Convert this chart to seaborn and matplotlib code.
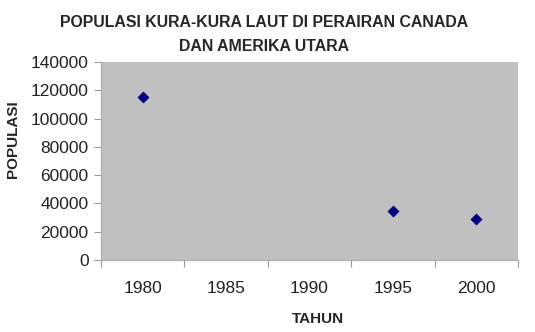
import matplotlib
matplotlib.use("Agg")
import matplotlib.pyplot as plt
import seaborn as sns
import numpy as np
import pandas as pd
from matplotlib.ticker import FixedLocator

years = ["1980", "1985", "1990", "1995", "2000"]
populasi = [115000, np.nan, np.nan, 35000, 29000]
yticks = [0, 20000, 40000, 60000, 80000, 100000, 120000, 140000]

title = "POPULASI KURA-KURA LAUT DI PERAIRAN CANADA\nDAN AMERIKA UTARA"
xlabel = "TAHUN"
ylabel = "POPULASI"

sns.set_style("white")
plt.rcParams["font.family"] = ["Liberation Sans", "DejaVu Sans"]

df = pd.DataFrame({"Tahun": years, "Populasi": populasi})

fig = plt.figure(figsize=(5.35, 3.32), dpi=100)
ax = fig.add_axes([101 / 535, 72 / 332, 417 / 535, 198 / 332])
ax.set_facecolor("#C0C0C0")

sns.pointplot(data=df, x="Tahun", y="Populasi", order=years, markers="D",
              linestyle="none", color="#000080", errorbar=None, ax=ax,
              markersize=4.3)

ax.set_xlim(-0.5, len(years) - 0.5)
ax.set_ylim(0, 140000)
ax.set_yticks(yticks)
ax.set_yticklabels([str(v) for v in yticks])
ax.xaxis.set_minor_locator(FixedLocator(np.arange(-0.5, len(years), 1.0)))
ax.tick_params(axis="x", which="major", length=0, pad=15, labelsize=12.5,
               labelcolor="#222222")
ax.tick_params(axis="x", which="minor", length=5, width=0.8, color="#999999",
               direction="out", bottom=True)
ax.tick_params(axis="y", which="major", length=5, width=0.8, color="#999999",
               direction="out", left=True, pad=4, labelsize=12.5,
               labelcolor="#222222")

for s in ["top", "right"]:
    ax.spines[s].set_visible(False)
for s in ["left", "bottom"]:
    ax.spines[s].set_color("#AAAAAA")
    ax.spines[s].set_linewidth(0.8)

ax.set_xlabel("")
ax.set_ylabel("")

fig.text(264 / 535, 1 - 34.5 / 332, title, ha="center", va="center",
         fontsize=11.4, fontweight="bold", linespacing=1.75)
fig.text(318 / 535, 1 - 319 / 332, xlabel, ha="center", va="center",
         fontsize=11, fontweight="bold")
fig.text(13 / 535, 1 - 139 / 332, ylabel, ha="center", va="center",
         fontsize=11, fontweight="bold", rotation=90)

fig.savefig("out.png", dpi=100)
